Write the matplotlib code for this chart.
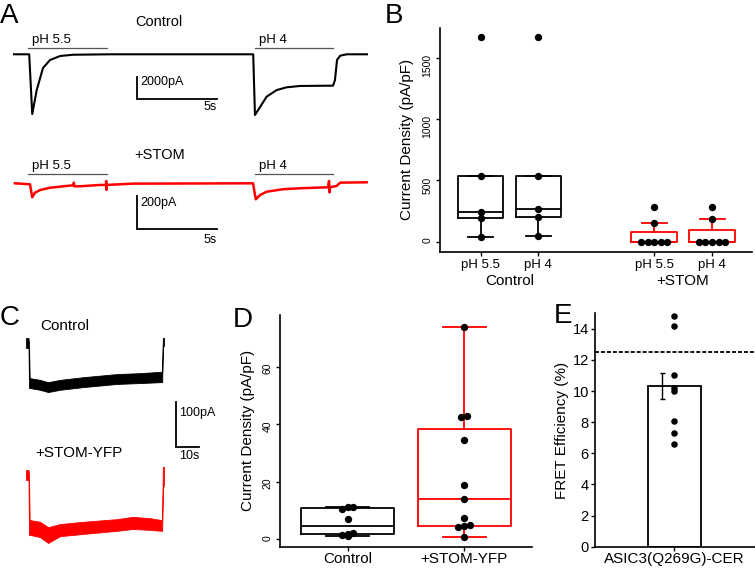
import matplotlib
matplotlib.use("Agg")
import matplotlib.pyplot as plt
import numpy as np

plt.rcParams["font.family"] = ["Liberation Sans", "DejaVu Sans"]

W, H = 755, 570
RED = "#ff0000"
INK = "black"

# ---- panel A: whole-cell traces (time s, current pA) ----
ctrl_a_t = [0, 0.95, 1.14, 1.42, 1.81, 2.25, 2.88, 3.69, 6.0, 14.95, 15.06, 15.38, 15.79,
            16.42, 17.04, 17.88, 19.94, 20.06, 20.19, 20.38, 20.79, 22.06]
ctrl_a_i = [0, 0, -5430, -3250, -1250, -520, -155, -40, 0, 0, -5520, -4790, -3850,
            -3250, -3000, -2880, -2850, -2340, -520, -130, 0, 0]
stom_a_t = [0.06, 1.0, 1.14, 1.31, 1.63, 2.25, 3.29, 3.71, 3.74, 3.77, 4.13, 5.38, 5.75,
            5.76, 5.78, 5.8, 7.44, 11.6, 14.94, 15.11, 15.38, 15.79, 16.81, 17.88, 19.63,
            19.69, 19.72, 19.75, 20.17, 20.38, 22.04]
stom_a_i = [0, -6, -85, -57, -41, -27, -16, -12, 4, -18, -18, -10, -10,
            14, -40, -10, -2, -1, 0, -97, -71, -51, -36, -30, -24,
            14, -55, -24, -16, 4, 6]
ph_on = [0.875, 15.06]
ph_off = [5.81, 19.94]
ph_labels = ["pH 5.5", "pH 4"]

# ---- panel B: peak current density (pA/pF) ----
b_ctrl55 = [41, 190, 245, 535, 1666]
b_ctrl4 = [45, 205, 265, 535, 1666]
b_stom55 = [0, 0, 0, 0, 0, 150, 285]
b_stom4 = [0, 0, 0, 0, 0, 185, 285]
b_ticklabels = ["pH 5.5", "pH 4", "pH 5.5", "pH 4"]
b_groups = ["Control", "+STOM"]

# ---- panel C: sustained current traces (time s, band lo/hi pA) ----
c_ctrl_t = [0, 1.1, 1.3, 1.6, 6.1, 9.6, 14.8, 24.8, 39.6, 49.6, 58.7, 59.2, 59.5, 60.0]
c_ctrl_hi = [11, 11, 0, -78, -82, -87, -82, -76, -69, -67, -64, -64, 11, 11]
c_ctrl_lo = [-11, -11, -100, -100, -104, -109, -104, -98, -91, -89, -87, -87, -7, -7]
c_stom_t = [0, 1.1, 1.3, 1.6, 6.1, 9.6, 14.8, 24.8, 39.6, 46.5, 54.0, 58.7, 59.2, 59.5, 60.0]
c_stom_hi = [11, 11, 0, -100, -104, -116, -109, -104, -98, -93, -96, -100, -100, 18, 18]
c_stom_lo = [-11, -11, -133, -133, -138, -151, -136, -131, -124, -120, -122, -124, -124, -33, -20]

# ---- panel D: sustained current density (pA/pF) ----
d_ctrl = [0.9, 1.5, 1.7, 1.9, 7.0, 10.5, 11.0, 11.3]
d_stom = [0.8, 4.2, 4.5, 4.8, 7.4, 13.8, 18.8, 34.5, 42.4, 42.8, 73.9]
d_labels = ["Control", "+STOM-YFP"]

# ---- panel E: FRET efficiency (%) ----
fret = [14.8, 14.2, 11.05, 10.2, 10.0, 8.05, 7.3, 6.6]
fret_mean = 10.33
fret_sem = 0.84
fret_cut = 12.5
fret_label = "ASIC3(Q269G)-CER"

fig = plt.figure(figsize=(W / 100, H / 100), dpi=100)


def px_axes(left, top, right, bottom):
    return fig.add_axes([left / W, 1 - bottom / H, (right - left) / W, (bottom - top) / H])


def ftext(x, y, s, **kw):
    fig.text(x / W, 1 - y / H, s, **kw)


def trace_axes(x0, y0, sx, sy, tlim, ilim):
    # (x0, y0) pixel spot of t=0 / I=0, sx px per s, sy px per pA
    ax = px_axes(x0 + tlim[0] * sx, y0 - ilim[1] * sy, x0 + tlim[1] * sx, y0 - ilim[0] * sy)
    ax.set_xlim(*tlim); ax.set_ylim(*ilim); ax.axis("off"); ax.patch.set_alpha(0)
    return ax


def scalebar(ax, t, i, dt, di, tlab, ilab, ioff, toff, fs=9):
    ax.plot([t, t, t + dt], [i + di, i, i], color=INK, lw=1.3, solid_joinstyle="miter")
    ax.annotate(ilab, (t, i + di), xytext=(2, ioff), textcoords="offset points",
                ha="left", va="center", fontsize=fs)
    ax.annotate(tlab, (t + dt, i), xytext=(0, toff), textcoords="offset points",
                ha="right", va="center", fontsize=fs)


def stim_bars(ax, level):
    for on, off, lab in zip(ph_on, ph_off, ph_labels):
        ax.plot([on, off], [level, level], color="#555555", lw=0.9)
        ax.annotate(lab, (on, level), xytext=(3, 5.5), textcoords="offset points",
                    ha="left", va="center", fontsize=9.5)


def spread(vals, center, tol, step):
    vals = np.asarray(vals, float)
    order = np.argsort(vals, kind="stable")
    xs = np.full(len(vals), float(center))
    groups, grp = [], [order[0]]
    for k in order[1:]:
        if vals[k] - vals[grp[-1]] <= tol:
            grp.append(k)
        else:
            groups.append(grp); grp = [k]
    groups.append(grp)
    for g in groups:
        for j, k in enumerate(g):
            xs[k] = center + (j - (len(g) - 1) / 2) * step
    return xs


def boxes(ax, data, pos, colors, width, capw, tol, step):
    for vals, p, c in zip(data, pos, colors):
        ln = dict(color=c, lw=1.3)
        ax.boxplot([vals], positions=[p], widths=width, whis=1.5, showfliers=False,
                   capwidths=[capw], boxprops=ln, whiskerprops=ln, capprops=ln,
                   medianprops=ln, manage_ticks=False)
        ax.scatter(spread(vals, p, tol, step), vals, s=28, color=INK, zorder=3, lw=0)


def classic(ax, ylab, labx, ysize):
    for s in ("top", "right"):
        ax.spines[s].set_visible(False)
    for s in ("left", "bottom"):
        ax.spines[s].set_linewidth(1.2)
    ax.tick_params(length=3, width=1.0)
    ax.tick_params(axis="y", labelsize=ysize)
    ax.set_ylabel(ylab, fontsize=11, va="center")
    ax.yaxis.set_label_coords(labx, 0.5)


# ---------- A ----------
ax = trace_axes(14, 54.3, 16, 0.011, (-0.5, 23), (-6000, 1800))
ax.plot(ctrl_a_t, ctrl_a_i, color=INK, lw=1.5)
stim_bars(ax, 600)
scalebar(ax, 7.69, -4090, 5, 2000, "5s", "2000pA", -3.6, -5.8)
ftext(159, 21.7, "Control", ha="center", va="center", fontsize=10.5)

ax = trace_axes(14, 183.3, 16, 0.165, (-0.5, 23), (-320, 200))
ax.plot(stom_a_t, stom_a_i, color=RED, lw=1.8)
stim_bars(ax, 56)
scalebar(ax, 7.69, -277, 5, 200, "5s", "200pA", -5, -8)
ftext(160, 155, "+STOM", ha="center", va="center", fontsize=10.5)

# ---------- B ----------
ax = px_axes(440, 28, 752, 251.7)
b_pos = [1, 2, 4, 5]
boxes(ax, [b_ctrl55, b_ctrl4, b_stom55, b_stom4], b_pos, [INK, INK, RED, RED],
      0.79, 0.43, 30, 0.115)
ax.set_xlim(0.30, 5.69); ax.set_ylim(-82, 1742)
ax.set_yticks([0, 500, 1000, 1500])
ax.set_xticks(b_pos, b_ticklabels, fontsize=9.5)
classic(ax, "Current Density (pA/pF)", -0.107, 7.5)
ax.tick_params(axis="y", labelrotation=90, pad=2.5)
ax.tick_params(axis="x", pad=2)
for p, g in zip([1.5, 4.5], b_groups):
    ax.text(p, -0.131, g, transform=ax.get_xaxis_transform(), ha="center", va="center",
            fontsize=11)

# ---------- C ----------
ax = trace_axes(26, 343, 2.3, 0.45, (-1, 80), (-300, 25))
ax.fill_between(c_ctrl_t, c_ctrl_lo, c_ctrl_hi, color=INK, lw=0.6)
scalebar(ax, 65.2, -230.4, 10, 100, "10s", "100pA", -8, -6.5)
ftext(40.7, 325.7, "Control", ha="left", va="center", fontsize=11)

ax = trace_axes(26, 475, 2.3, 0.45, (-1, 62), (-170, 40))
ax.fill_between(c_stom_t, c_stom_lo, c_stom_hi, color=RED, lw=0.6)
ftext(35.7, 453, "+STOM-YFP", ha="left", va="center", fontsize=11)

# ---------- D ----------
ax = px_axes(280, 315, 531.7, 546.7)
boxes(ax, [d_ctrl, d_stom], [1, 2], [INK, RED], 0.8, 0.37, 0.5, 0.05)
ax.set_xlim(0.42, 2.58); ax.set_ylim(-2.7, 78)
ax.set_yticks([0, 20, 40, 60])
ax.set_xticks([1, 2], d_labels, fontsize=11)
classic(ax, "Current Density (pA/pF)", -0.127, 7.5)
ax.tick_params(axis="y", labelrotation=90, pad=2.5)
ax.tick_params(axis="x", pad=0.5)

# ---------- E ----------
ax = px_axes(595, 313.3, 755, 546.7)
ax.bar(1, fret_mean, width=0.6, facecolor="white", edgecolor=INK, lw=1.3, zorder=1)
ax.errorbar(1 - 0.135, fret_mean, yerr=fret_sem, color=INK, lw=1.0, capsize=1.8,
            capthick=1.0, zorder=2)
ax.scatter(np.ones(len(fret)), fret, s=22, color=INK, lw=0, zorder=3)
ax.axhline(fret_cut, color=INK, lw=1.3, ls=(0, (2.2, 1.1)))
ax.set_xlim(0.108, 1.908); ax.set_ylim(0, 15)
ax.set_yticks(range(0, 15, 2))
ax.set_xticks([1], [fret_label], fontsize=11)
classic(ax, "FRET Efficiency (%)", -0.208, 10.5)
ax.tick_params(axis="x", pad=0.5)
ax.tick_params(axis="y", pad=1.5)

# panel letters
for x, y, s in [(0, 23.3, "A"), (385, 23.3, "B"), (0, 325, "C"), (233, 326.7, "D"),
                (554, 323.3, "E")]:
    ftext(x, y, s, ha="left", va="baseline", fontsize=20)

fig.savefig("out.png", dpi=100)
